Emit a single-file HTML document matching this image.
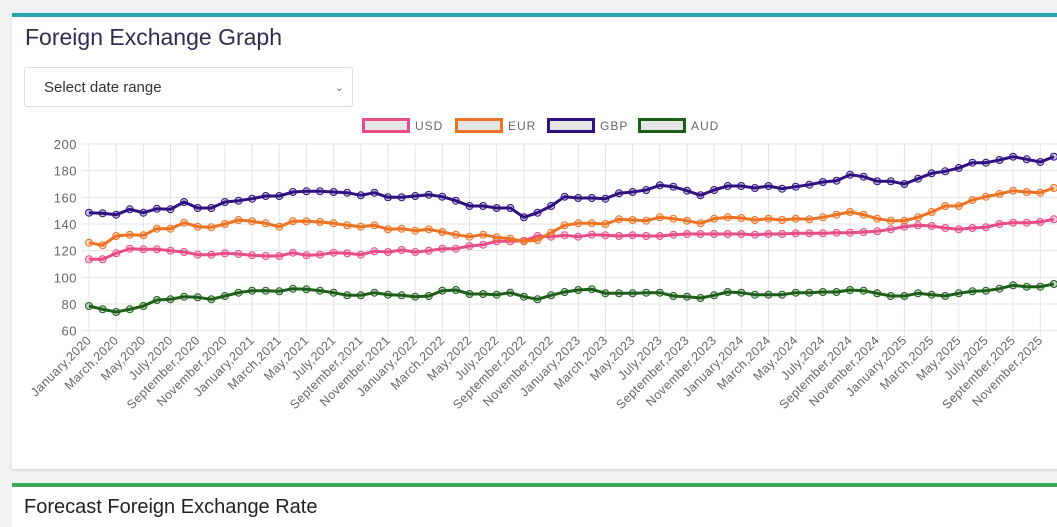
<!DOCTYPE html>
<html><head><meta charset="utf-8"><style>
body{margin:0;width:1057px;height:503px;background:#f1f1f1;overflow:hidden;font-family:"Liberation Sans",sans-serif;position:relative}
.card{position:absolute;left:12px;top:13px;width:1060px;height:452px;background:#fff;border-top:4px solid #2aa3b0;box-shadow:0 1px 3px rgba(0,0,0,.12)}
.card2{position:absolute;left:12px;top:483px;width:1060px;height:40px;background:#fff;border-top:4px solid #3aa857}
h1{position:absolute;left:25px;top:24px;margin:0;font-weight:normal;font-size:23px;color:#2d2d52}
.sel{position:absolute;left:24px;top:67px;width:329px;height:40px;border:1px solid #ddd;border-radius:3px;background:#fff;font-size:15px;color:#333;line-height:40px;box-sizing:border-box;padding-left:19px}
.sel span{position:absolute;right:8px;top:0;font-size:11px;color:#666}
</style></head><body>
<div class="card"></div>
<div class="card2"><div style="position:absolute;left:12px;top:9px;font-size:20px;color:#222">Forecast Foreign Exchange Rate</div></div>
<h1>Foreign Exchange Graph</h1>
<div class="sel">Select date range<span>&#8964;</span></div>
<svg id="c" width="1057" height="503" style="position:absolute;left:0;top:0"></svg>
<script>
const s=document.getElementById('c');let h='';
const X=i=>89+13.59*i, Y=v=>144+(200-v)*1.3333;
const leg=[['USD','#e84d87',362],['EUR','#ec7324',455],['GBP','#311180',547],['AUD','#1d5e19',638]];
for(const [n,c,x] of leg){h+=`<rect x="${x+1.5}" y="119.5" width="45" height="12" fill="#e6e6e6" stroke="${c}" stroke-width="3"/><text x="${x+53}" y="130" font-size="12" fill="#666" letter-spacing="1">${n}</text>`;}
for(let v=60;v<=200;v+=20){h+=`<line x1="82" x2="1057" y1="${Y(v)}" y2="${Y(v)}" stroke="#e4e4e4"/><text x="77" y="${Y(v)+5}" text-anchor="end" font-size="13" fill="#666" letter-spacing="0.5">${v}</text>`;}
const M=['January','March','May','July','September','November'];
for(let i=0;i<72;i+=2){const x=X(i);h+=`<line x1="${x}" x2="${x}" y1="144" y2="337" stroke="#e4e4e4"/>`;
h+=`<text transform="translate(${x+3},341) rotate(-45)" text-anchor="end" font-size="12.5" fill="#666" letter-spacing="0.4">${M[(i%12)/2]},${2020+Math.floor(i/12)}</text>`;}
const D={
'#e84d87':[113.5,113.5,118,121.5,121,121,120,119,117,117,118,117.5,116.5,116,116,118.5,116.5,117,118.5,118,117,119.5,119,120.5,119,120,121.5,121.5,123.5,124.5,127,127,127.5,131,130.5,131.5,130.5,132,131.5,131,131.5,131,131,132,132.5,132.5,132.5,132.5,132.5,132,132.5,132.5,133,133,133,133.5,133.5,134,134.5,136,138,139,138.5,137,136,137,137.5,140,141,141,141.5,143.5],
'#ec7324':[126,124,131,132,131.5,136.5,136.5,141,138,137.5,140,143,142,140.5,138,142,142,141.5,140.5,139,138,139,136,136.5,135,136,134,132,130.5,132,130,129,127,128,133.5,139,140.5,140.5,140,143.5,143,142.5,145,144,142.5,140.5,144,145,144.5,143,144,143,144,143.5,145,147,149,147,144,142.5,142.5,145,149,153.5,153.5,158,160.5,162.5,165,164,163.5,167],
'#311180':[148.5,148,147,151,148.5,151.5,151,156.5,152,152,156.5,157.5,159,161,161,164,164.5,164.5,164,163.5,161.5,163.5,160,160,161,162,160.5,157.5,153.5,153.5,152,152,145,148.5,153.5,160.5,159.5,159.5,159,163,164,165.5,169,168,165,161.5,165.5,168.5,168.5,167,168.5,166.5,168,169.5,171.5,172.5,177,175.5,172,172,170,174,178,179.5,182,186,186,188,190.5,188.5,186.5,190.5],
'#1d5e19':[78.5,76,74,76,78.5,83,83.5,85.5,85,83.5,86,88.5,90,90,89.5,91.5,91,90,88.5,86.5,86.5,88.5,87,86.5,85.5,86,90,90.5,87.5,87.5,87,88.5,85.5,83.5,86.5,89,90.5,91,88,88,88,88.5,88.5,86,85.5,84.5,86.5,89,88.5,87,87,87,88.5,88.5,89,89,90.5,90,88,86,86,88,87,86,88,89.5,90,91.5,94,93,93,95]};
for(const c in D){const p=D[c].map((v,i)=>X(i).toFixed(1)+','+Y(v).toFixed(1));
h+=`<polyline points="${p.join(' ')}" fill="none" stroke="${c}" stroke-width="3" stroke-linejoin="round"/>`;
for(const q of p){const [a,b]=q.split(',');h+=`<circle cx="${a}" cy="${b}" r="3.5" fill="${c}" fill-opacity="0.25" stroke="${c}" stroke-width="1"/>`;}}
s.innerHTML=h;
</script>
</body></html>
